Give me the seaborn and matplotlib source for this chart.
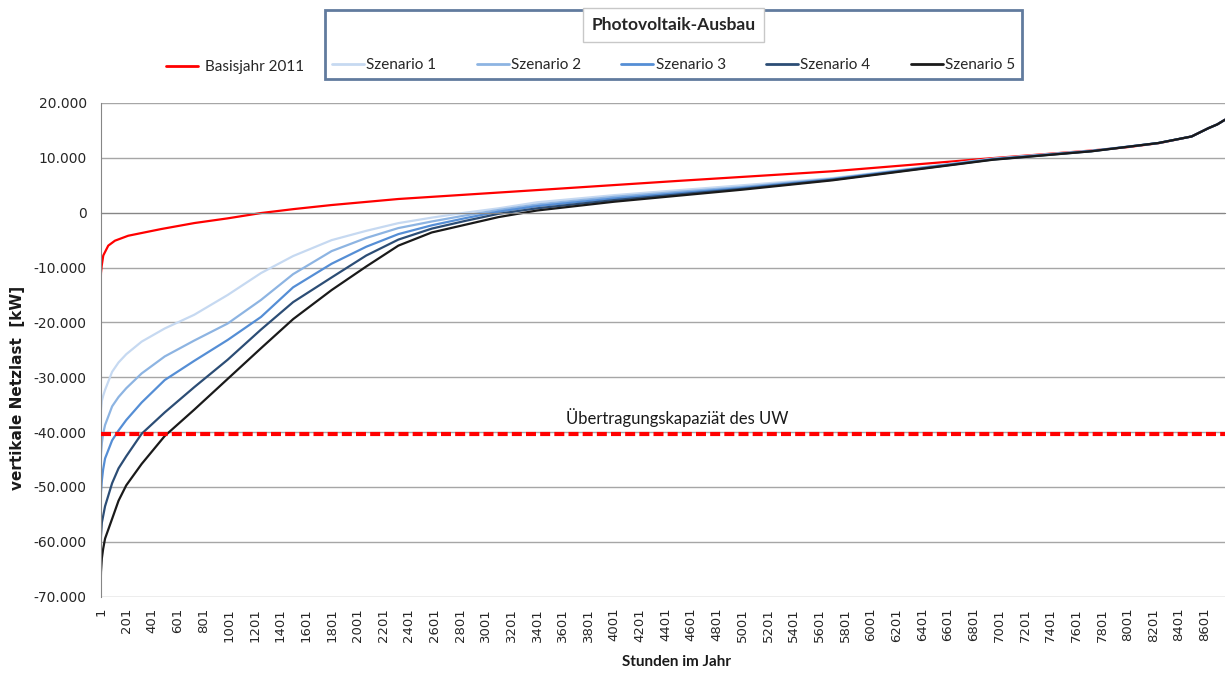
import matplotlib
matplotlib.use("Agg")
import pandas as pd
import matplotlib.pyplot as plt
import seaborn as sns
from matplotlib.lines import Line2D
from matplotlib.ticker import FuncFormatter

# values (hour of year -> vertical grid load in kW)
basis_hours = [1, 3, 9, 21, 60, 112, 215, 345, 474, 732, 990, 1250, 1508, 1800,
               2320, 3450, 4500, 5700, 6950, 7700, 8000, 8250, 8500, 8630, 8700, 8760]
basis_values = [-12900, -11000, -9650, -7800, -6000, -5100, -4200, -3580, -2970,
                -1880, -1030, -60, 670, 1400, 2500, 4200, 5800, 7550, 9950, 11300,
                11950, 12700, 13900, 15400, 16100, 16950]

scenario_hours = [1, 3, 10, 20, 35, 90, 140, 200, 320, 500, 730, 990, 1250, 1500,
                  1800, 2070, 2320, 2580, 2840, 3100, 3400, 4000, 5000, 5700, 6950,
                  7720, 8240, 8500, 8630, 8700, 8760]
szenario_1 = [-38000, -36000, -34300, -33400, -32300, -29000, -27300, -25800,
              -23500, -21100, -18600, -15000, -11000, -7900, -5000, -3300, -1900,
              -900, 0, 800, 1900, 3200, 5000, 6300, 9850, 11300, 12700, 13900,
              15400, 16100, 16950]
szenario_2 = [-47000, -44000, -42000, -40300, -38700, -35300, -33600, -32000,
              -29300, -26200, -23300, -20200, -15900, -11200, -7000, -4600, -2800,
              -1600, -500, 500, 1500, 2900, 4700, 6200, 9800, 11250, 12700, 13900,
              15400, 16100, 16950]
szenario_3 = [-55000, -51000, -48800, -46800, -44800, -41500, -39700, -37800,
              -34600, -30500, -27000, -23200, -19000, -13600, -9300, -6200, -3900,
              -2300, -1000, 200, 1200, 2600, 4500, 6100, 9750, 11250, 12700, 13900,
              15400, 16100, 16950]
szenario_4 = [-63000, -59000, -56500, -55300, -53500, -49300, -46600, -44400,
              -40300, -36400, -31800, -26800, -21300, -16300, -11800, -7800, -4900,
              -2900, -1500, -200, 800, 2300, 4350, 6000, 9700, 11200, 12700, 13900,
              15400, 16100, 16950]
szenario_5 = [-68300, -65500, -63000, -61300, -59400, -55800, -52500, -49700,
              -45800, -40700, -35900, -30300, -24700, -19400, -14100, -9800, -6000,
              -3600, -2200, -800, 400, 2000, 4200, 5900, 9650, 11200, 12700, 13900,
              15400, 16100, 16950]

scenario_names = ["Szenario 1", "Szenario 2", "Szenario 3", "Szenario 4", "Szenario 5"]
scenario_values = [szenario_1, szenario_2, szenario_3, szenario_4, szenario_5]
basis_name = "Basisjahr 2011"

capacity = -40300
capacity_label = "Übertragungskapaziät des UW"

xtick_pos = list(range(1, 8761, 200))
xtick_labels = [str(h) for h in xtick_pos]

colors = {
    basis_name: "#ff0000",
    "Szenario 1": "#c6d9f1",
    "Szenario 2": "#8db4e2",
    "Szenario 3": "#558ed5",
    "Szenario 4": "#2c4d75",
    "Szenario 5": "#1a1a1a",
}

frames = [pd.DataFrame({"hour": basis_hours, "last": basis_values, "serie": basis_name})]
for name, vals in zip(scenario_names, scenario_values):
    frames.append(pd.DataFrame({"hour": scenario_hours, "last": vals, "serie": name}))
df = pd.concat(frames, ignore_index=True)

sns.set_style("white")
plt.rcParams["font.family"] = ["DejaVu Sans"]
narrow = ["Lato", "DejaVu Sans"]

W, H = 1228, 673
fig = plt.figure(figsize=(W / 100, H / 100), dpi=100)
ax = fig.add_axes([100.7 / W, 76.3 / H, 1124.3 / W, 493.7 / H])

sns.lineplot(data=df, x="hour", y="last", hue="serie", palette=colors,
             estimator=None, sort=False, linewidth=1.6, legend=False, ax=ax)

ax.axhline(capacity, color="#ff0000", lw=3, linestyle=(0, (2.4, 1.0)), zorder=5)
ax.text(4490, capacity + 1300, capacity_label, ha="center", va="bottom",
        fontsize=12, family=narrow, color="#1a1a1a")

ax.set_xlim(1, 8760)
ax.set_ylim(-70000, 20000)
ax.set_yticks(range(-70000, 20001, 10000))
ax.yaxis.set_major_formatter(FuncFormatter(lambda v, p: f"{int(v):,}".replace(",", ".")))
ax.grid(axis="y", color="#a6a6a6", lw=1)
ax.set_axisbelow(True)
ax.set_xlabel("")
ax.set_ylabel("")

for s in ["top", "right"]:
    ax.spines[s].set_visible(False)
ax.spines["left"].set_color("#868686")
ax.spines["bottom"].set_color("#868686")
ax.spines["bottom"].set_position(("data", 0))

ax.set_xticks(xtick_pos)
ax.tick_params(axis="x", direction="out", length=6, color="#868686", labelbottom=False)
ax.tick_params(axis="y", direction="out", length=5, color="#868686", pad=5,
               labelsize=10, labelcolor="#262626")

secax = ax.secondary_xaxis("bottom")
secax.set_xticks(xtick_pos)
secax.set_xticklabels(xtick_labels, rotation=90)
secax.tick_params(length=0, pad=8, labelsize=9.5, labelcolor="#262626")
secax.spines["bottom"].set_visible(False)

fig.text(18 / W, 1 - 387.5 / H, "vertikale Netzlast  [kW]", rotation=90,
         ha="center", va="center", fontsize=11, fontweight="bold", color="#1a1a1a")
fig.text(677 / W, 1 - 662 / H, "Stunden im Jahr", ha="center", va="center",
         fontsize=11, fontweight="bold", family=narrow, color="#1a1a1a")

# legends
h_basis = [Line2D([], [], color=colors[basis_name], lw=2)]
fig.legend(handles=h_basis, labels=[basis_name], loc="center",
           bbox_to_anchor=(235 / W, 1 - 67 / H), frameon=False,
           handlelength=2.1, handletextpad=0.45, prop={"family": narrow, "size": 11})

h_sc = [Line2D([], [], color=colors[n], lw=2) for n in scenario_names]
leg = fig.legend(handles=h_sc, labels=scenario_names, loc="upper left",
                 bbox_to_anchor=(325 / W, 1 - 10 / H, 697 / W, 0), mode="expand",
                 borderaxespad=0, ncol=5, fancybox=False, handlelength=2.1,
                 handletextpad=0.15, borderpad=0.45, labelspacing=1.65,
                 prop={"family": narrow, "size": 11},
                 title="Photovoltaik-Ausbau",
                 title_fontproperties={"family": narrow, "size": 12.5, "weight": "bold"})
leg.get_frame().set_edgecolor("#3a5a86")
leg.get_frame().set_linewidth(2)
leg.get_title().set_bbox(dict(boxstyle="square,pad=0.5", fc="white", ec="#c8c8c8", lw=1))

fig.savefig("out.png", dpi=100)
